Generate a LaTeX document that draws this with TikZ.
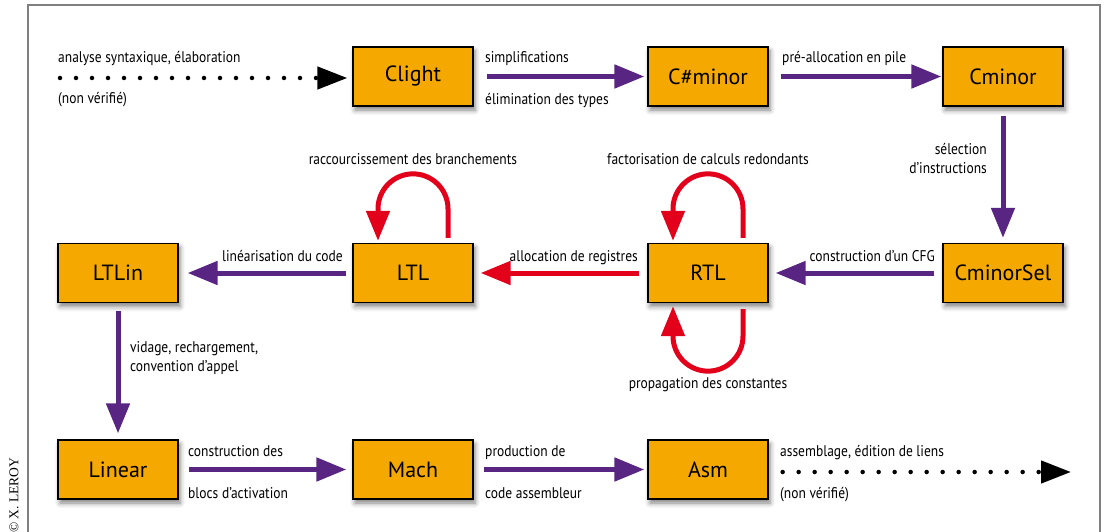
\documentclass[tikz,border=0pt]{standalone}
\usepackage{fontspec}
\setmainfont{PT Sans}
\newfontfamily\lblfont[FakeStretch=0.87]{PT Sans}
\newfontfamily\crfont{Liberation Serif}
\usetikzlibrary{arrows.meta,shadows.blur,calc}
\definecolor{boxorange}{RGB}{245,168,0}
\definecolor{purp}{RGB}{88,37,131}
\definecolor{redc}{RGB}{226,0,26}
\definecolor{framegray}{RGB}{128,128,128}
\begin{document}
\begin{tikzpicture}[x=1pt,y=-1pt,
  stage/.style={draw=black, line width=1.3pt, fill=boxorange, minimum width=120pt, minimum height=59pt, inner sep=0pt,
    font=\fontsize{22}{26}\selectfont,
    blur shadow={shadow xshift=2pt, shadow yshift=-4pt, shadow blur radius=5pt, shadow opacity=50}},
  lbl/.style={inner sep=0pt, font=\lblfont\fontsize{15.5}{19.5}\selectfont},
  parr/.style={draw=purp, line width=5pt, -{Triangle[length=30pt,width=23pt]}},
  rarr/.style={draw=redc, line width=5pt, -{Triangle[length=30pt,width=23pt]}},
  darr/.style={draw=black, line width=4.5pt, line cap=round, dash pattern=on 0pt off 16pt, -{Triangle[length=30pt,width=22pt]}},
]
\path[use as bounding box] (0,0) rectangle (1104,532);
\begin{scope}
\clip (0,0) rectangle (1104,532);
\draw[framegray, line width=1.5pt] (28,545) -- (28,5) -- (1100,5) -- (1100,545);
\node[inner sep=0pt, font=\crfont\fontsize{13.5}{15}\selectfont, rotate=90, anchor=west] (copy) at (14,533) {© X. LEROY};
\end{scope}

% stages
\node[stage] (Clight) at (413,76.5) {Clight};
\node[stage] (Csharp) at (708,76.5) {C\#minor};
\node[stage] (Cminor) at (1003,76.5) {Cminor};
\node[stage] (LTLin) at (118,273) {LTLin};
\node[stage] (LTL) at (413,273) {LTL};
\node[stage] (RTL) at (708,273) {RTL};
\node[stage] (CminorSel) at (1003,273) {CminorSel};
\node[stage] (Linear) at (118,469.5) {Linear};
\node[stage] (Mach) at (413,469.5) {Mach};
\node[stage] (Asm) at (708,469.5) {Asm};

\coordinate (src) at (60,78);
\coordinate (dst) at (1071,472);

% connectors
\draw[darr, shorten >=5pt] (src) -- (Clight.west |- src);
\draw[parr, shorten <=13pt, shorten >=3pt] (Clight) -- (Csharp);
\draw[parr, shorten <=12pt, shorten >=1pt] (Csharp) -- (Cminor);
\draw[parr, shorten <=9pt, shorten >=5pt] (Cminor) -- (CminorSel);
\draw[parr, shorten <=8pt, shorten >=7pt] (CminorSel) -- (RTL);
\draw[rarr, shorten <=8pt, shorten >=7pt] (RTL) -- (LTL);
\draw[parr, shorten <=6pt, shorten >=9pt] (LTL) -- (LTLin);
\draw[parr, shorten <=8pt, shorten >=6pt] (LTLin) -- (Linear);
\draw[parr, shorten <=10pt, shorten >=6pt] (Linear) -- (Mach);
\draw[parr, shorten <=10pt, shorten >=3pt] (Mach) -- (Asm);
\draw[darr] ($(Asm.east |- dst)+(14,0)$) -- (dst);

% loops
\draw[rarr] ($(LTL.north)+(35,-5)$) -- ++(0,-29) arc[start angle=0, end angle=-180, radius=35] -- ($(LTL.north)+(-35,-2)$);
\draw[rarr] ($(RTL.north)+(35,-5)$) -- ++(0,-29) arc[start angle=0, end angle=-180, radius=35] -- ($(RTL.north)+(-35,-2)$);
\draw[rarr] ($(RTL.south)+(35,6)$) -- ++(0,27) arc[start angle=0, end angle=180, radius=35] -- ($(RTL.south)+(-35,3)$);

% labels
\node[lbl, anchor=base west] (l1) at (58,63) {analyse syntaxique, élaboration};
\node[lbl, anchor=base west] (l2) at (58,104) {(non vérifié)};
\node[lbl, anchor=base west] (l3) at (485,63) {simplifications};
\node[lbl, anchor=base west] (l4) at (485,105) {élimination des types};
\node[lbl, anchor=base west] (l5) at (782,63) {pré-allocation en pile};
\node[lbl, anchor=north east, align=right] (l6) at (987,143) {sélection\\d’instructions};
\node[lbl, anchor=base east] (l7) at (935,261) {construction d’un CFG};
\node[lbl, anchor=base east] (l8) at (638,261) {allocation de registres};
\node[lbl, anchor=base east] (l9) at (343,261) {linéarisation du code};
\node[lbl, anchor=base] (l10) at (413,165) {raccourcissement des branchements};
\node[lbl, anchor=base] (l11) at (708,165) {factorisation de calculs redondants};
\node[lbl, anchor=base] (l12) at (708,388) {propagation des constantes};
\node[lbl, anchor=north west, align=left] (l13) at (130,341) {vidage, rechargement,\\convention d’appel};
\node[lbl, anchor=base west] (l14) at (188,456) {construction des};
\node[lbl, anchor=base west] (l15) at (188,498) {blocs d’activation};
\node[lbl, anchor=base west] (l16) at (485,456) {production de};
\node[lbl, anchor=base west] (l17) at (485,498) {code assembleur};
\node[lbl, anchor=base west] (l18) at (780,456) {assemblage, édition de liens};
\node[lbl, anchor=base west] (l19) at (780,498) {(non vérifié)};
\end{tikzpicture}
\end{document}
